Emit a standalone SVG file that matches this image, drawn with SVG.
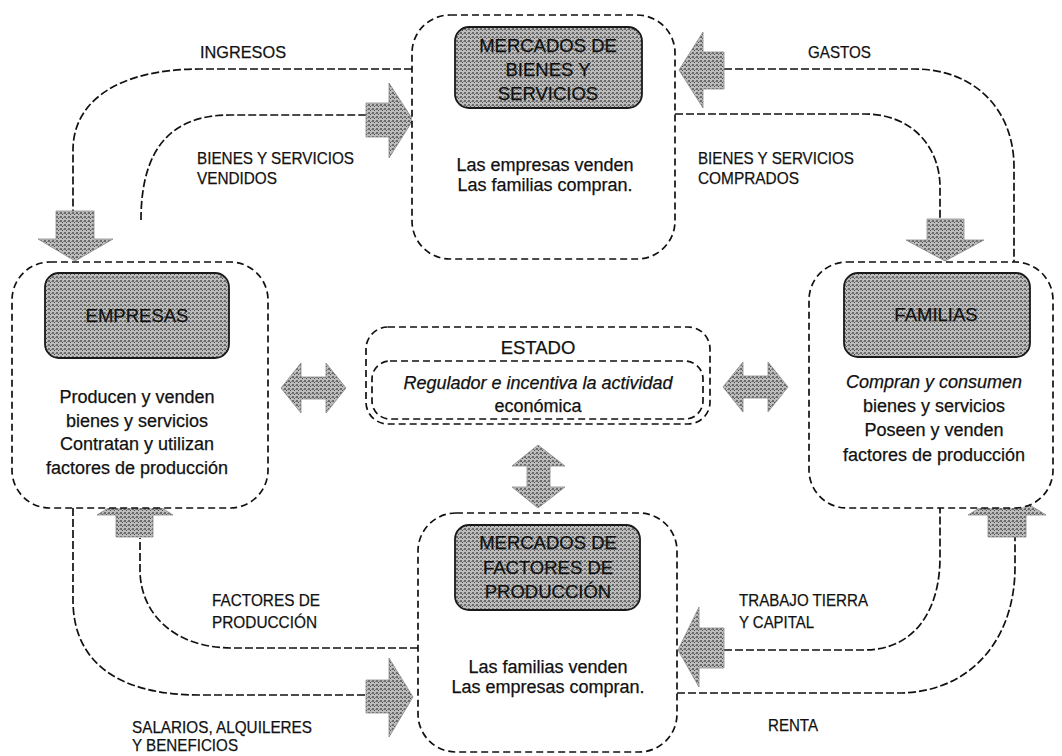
<svg xmlns="http://www.w3.org/2000/svg" width="1062" height="756" viewBox="0 0 1062 756">
<defs>
<pattern id="ht" width="4" height="4" patternUnits="userSpaceOnUse">
<rect width="4" height="4" fill="#bdbdbd"/>
<rect width="2" height="2" fill="#6c6c6c"/>
<rect x="2" y="2" width="1" height="1" fill="#4a4a4a"/>
<rect x="3" y="1" width="1" height="1" fill="#8a8a8a"/>
</pattern>
<style>
.box{fill:#fff;stroke:#111;stroke-width:1.7;stroke-dasharray:7 4}
.gray{fill:url(#ht);stroke:#1a1a1a;stroke-width:1.8}
.line{fill:none;stroke:#111;stroke-width:1.7;stroke-dasharray:8 3}
.arr{fill:url(#ht);stroke:#8a8a8a;stroke-width:0.8}
.t{font-family:"Liberation Sans",Arial,sans-serif;fill:#111;stroke:#111;stroke-width:0.25}
.title{font-size:18.5px;text-anchor:middle}
.body{font-size:18px;text-anchor:middle}
.lab{font-size:17px}
.it{font-style:italic}
</style>
</defs>
<rect width="1062" height="756" fill="#fff"/>

<g id="connectors">
<path class="line" d="M412,69 H200 C120,69 73,100 73,150 V212"/>
<path class="line" d="M141,220 C141,150 170,115 230,115 H366"/>
<path class="line" d="M724,69 H914 C975,69 1014,110 1014,167 V262"/>
<path class="line" d="M675,114 H864 C915,114 940,150 940,187 V220"/>
<path class="line" d="M418,648 H233 C170,648 140,610 140,570 V538"/>
<path class="line" d="M73,508 V600 C73,660 115,695 200,695 H366"/>
<path class="line" d="M724,650 H864 C915,650 940,610 940,557 V508"/>
<path class="line" d="M677,693 H898 C970,693 1015,640 1015,567 V537"/>
<polygon class="arr" points="56,211 94,211 94,239 113,239 75,261 38,239 56,239"/>
<polygon class="arr" points="366,103 389,103 389,83 413,120 389,158 389,137 366,137"/>
<polygon class="arr" points="724,52 703,52 703,32 679,70 703,108 703,89 724,89"/>
<polygon class="arr" points="927,219 964,219 964,240 984,240 945,261 906,240 927,240"/>
<polygon class="arr" points="281,388 301,363 301,377 326,377 326,363 346,388 326,413 326,399 301,399 301,413"/>
<polygon class="arr" points="723,387 743,362 743,376 768,376 768,362 788,387 768,412 768,398 743,398 743,412"/>
<polygon class="arr" points="538,445 565,466 550,466 550,487 565,487 538,508 512,487 527,487 527,466 512,466"/>
<polygon class="arr" points="135,491 173,515 153,515 153,537 116,537 116,515 97,515"/>
<polygon class="arr" points="366,680 389,680 389,658 413,697 389,737 389,713 366,713"/>
<polygon class="arr" points="724,628 699,628 699,607 678,650 699,687 699,668 724,668"/>
<polygon class="arr" points="1007,491 1046,515 1026,515 1026,537 988,537 988,515 968,515"/>
</g>

<g id="labels">
<text class="t lab" x="200" y="58" textLength="86" lengthAdjust="spacingAndGlyphs">INGRESOS</text>
<text class="t lab" x="197" y="164" textLength="157" lengthAdjust="spacingAndGlyphs">BIENES Y SERVICIOS</text>
<text class="t lab" x="197" y="184" textLength="80" lengthAdjust="spacingAndGlyphs">VENDIDOS</text>
<text class="t lab" x="808" y="58" textLength="63" lengthAdjust="spacingAndGlyphs">GASTOS</text>
<text class="t lab" x="698" y="164" textLength="156" lengthAdjust="spacingAndGlyphs">BIENES Y SERVICIOS</text>
<text class="t lab" x="698" y="184" textLength="101" lengthAdjust="spacingAndGlyphs">COMPRADOS</text>
<text class="t lab" x="212" y="606" textLength="108" lengthAdjust="spacingAndGlyphs">FACTORES DE</text>
<text class="t lab" x="212" y="628" textLength="105" lengthAdjust="spacingAndGlyphs">PRODUCCIÓN</text>
<text class="t lab" x="132" y="733" textLength="180" lengthAdjust="spacingAndGlyphs">SALARIOS, ALQUILERES</text>
<text class="t lab" x="132" y="751" textLength="106" lengthAdjust="spacingAndGlyphs">Y BENEFICIOS</text>
<text class="t lab" x="739" y="606" textLength="129" lengthAdjust="spacingAndGlyphs">TRABAJO TIERRA</text>
<text class="t lab" x="739" y="628" textLength="75" lengthAdjust="spacingAndGlyphs">Y CAPITAL</text>
<text class="t lab" x="768" y="731" textLength="50" lengthAdjust="spacingAndGlyphs">RENTA</text>
</g>

<g id="mercado-bienes">
<rect class="box" x="412" y="15" width="263" height="244" rx="38"/>
<rect class="gray" x="455" y="27" width="187" height="81" rx="14"/>
<text class="t title" x="548" y="52">MERCADOS DE</text>
<text class="t title" x="548" y="76">BIENES Y</text>
<text class="t title" x="548" y="100">SERVICIOS</text>
<text class="t body" x="545" y="171">Las empresas venden</text>
<text class="t body" x="545" y="191">Las familias compran.</text>
</g>

<g id="empresas">
<rect class="box" x="12" y="262" width="256" height="246" rx="38"/>
<rect class="gray" x="45" y="273" width="184" height="85" rx="14"/>
<text class="t title" x="137" y="322">EMPRESAS</text>
<text class="t body" x="137" y="403">Producen y venden</text>
<text class="t body" x="137" y="427">bienes y servicios</text>
<text class="t body" x="137" y="450">Contratan y utilizan</text>
<text class="t body" x="137" y="474">factores de producción</text>
</g>

<g id="familias">
<rect class="box" x="809" y="262" width="244" height="246" rx="38"/>
<rect class="gray" x="844" y="273" width="186" height="84" rx="14"/>
<text class="t title" x="936" y="321">FAMILIAS</text>
<text class="t body it" x="934" y="388">Compran y consumen</text>
<text class="t body" x="934" y="412">bienes y servicios</text>
<text class="t body" x="934" y="436">Poseen y venden</text>
<text class="t body" x="934" y="461">factores de producción</text>
</g>

<g id="estado">
<rect class="box" x="366" y="327" width="344" height="97" rx="22"/>
<rect class="box" x="372" y="361" width="331" height="58" rx="18"/>
<text class="t title" x="538" y="354">ESTADO</text>
<text class="t body it" x="538" y="389">Regulador e incentiva la actividad</text>
<text class="t body" x="538" y="412">económica</text>
</g>

<g id="mercado-factores">
<rect class="box" x="418" y="513" width="259" height="239" rx="38"/>
<rect class="gray" x="455" y="525" width="185" height="85" rx="14"/>
<text class="t title" x="548" y="549">MERCADOS DE</text>
<text class="t title" x="548" y="574">FACTORES DE</text>
<text class="t title" x="548" y="598">PRODUCCIÓN</text>
<text class="t body" x="548" y="673">Las familias venden</text>
<text class="t body" x="548" y="693">Las empresas compran.</text>
</g>
</svg>
